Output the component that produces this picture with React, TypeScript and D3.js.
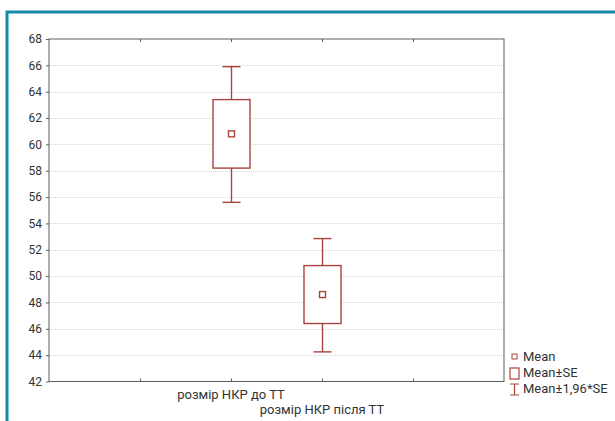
import React, { useEffect, useRef } from "react";
import * as d3 from "d3";

const categories = ["розмір НКР до ТТ", "розмір НКР після ТТ"];
const categoryPos = [2, 3];
const means = [60.8, 48.6];
const seLow = [58.2, 46.4];
const seHigh = [63.4, 50.8];
const ciLow = [55.6, 44.25];
const ciHigh = [65.9, 52.85];
const yTicks = [42, 44, 46, 48, 50, 52, 54, 56, 58, 60, 62, 64, 66, 68];
const xTicks = [1, 2, 3, 4];
const legendItems = ["Mean", "Mean±SE", "Mean±1,96*SE"];

const W = 615;
const H = 421;
const boxColor = "#a8443e";
const axisColor = "#56625a";
const font = "Roboto, 'DejaVu Sans', sans-serif";

const App = () => {
  const ref = useRef<SVGSVGElement | null>(null);

  useEffect(() => {
    const svg = d3.select(ref.current);
    svg.selectAll("*").remove();

    const margin = { top: 39, left: 49, right: 504, bottom: 381.5 };
    const x = d3.scaleLinear().domain([0, 5]).range([margin.left, margin.right]);
    const y = d3.scaleLinear().domain([42, 68]).range([margin.bottom, margin.top]);

    // teal frame
    svg
      .append("path")
      .attr("d", `M7,${H + 5} V12 H${W + 5}`)
      .attr("fill", "none")
      .attr("stroke", "#1689a8")
      .attr("stroke-width", 3);

    // grid
    svg
      .append("g")
      .selectAll("line")
      .data(yTicks.slice(1, -1))
      .join("line")
      .attr("x1", margin.left)
      .attr("x2", margin.right)
      .attr("y1", (d) => Math.round(y(d)) + 0.5)
      .attr("y2", (d) => Math.round(y(d)) + 0.5)
      .attr("stroke", "#d4d4d4")
      .attr("stroke-width", 1)
      .attr("stroke-dasharray", "1,1");

    // plot frame
    svg
      .append("rect")
      .attr("x", margin.left)
      .attr("y", margin.top)
      .attr("width", margin.right - margin.left)
      .attr("height", margin.bottom - margin.top)
      .attr("fill", "none")
      .attr("stroke", axisColor)
      .attr("stroke-width", 1);

    // y axis
    const yAxis = svg
      .append("g")
      .attr("transform", `translate(${margin.left},0)`)
      .call(d3.axisLeft(y).tickValues(yTicks).tickSize(3).tickPadding(4));
    yAxis.select(".domain").remove();
    yAxis.selectAll("line").attr("stroke", axisColor);
    yAxis
      .selectAll("text")
      .attr("fill", "#333")
      .style("font-family", font)
      .style("font-size", "12px");

    // x ticks bottom and top
    const xb = svg
      .append("g")
      .attr("transform", `translate(0,${margin.bottom})`)
      .call(d3.axisTop(x).tickValues(xTicks).tickSize(3).tickFormat(() => ""));
    xb.select(".domain").remove();
    xb.selectAll("line").attr("stroke", axisColor);
    const xt = svg
      .append("g")
      .attr("transform", `translate(0,${margin.top})`)
      .call(d3.axisBottom(x).tickValues(xTicks).tickSize(3).tickFormat(() => ""));
    xt.select(".domain").remove();
    xt.selectAll("line").attr("stroke", axisColor);

    // category labels, staggered
    svg
      .append("g")
      .selectAll("text")
      .data(categories)
      .join("text")
      .attr("x", (d, i) => x(categoryPos[i]))
      .attr("y", (d, i) => margin.bottom + 17 + i * 15)
      .attr("text-anchor", "middle")
      .attr("fill", "#333")
      .style("font-family", font)
      .style("font-size", "13px")
      .text((d) => d);

    // boxes
    const boxW = 37;
    const capW = 18;
    const g = svg.append("g").attr("stroke", boxColor).attr("fill", "none").attr("stroke-width", 1.4);
    categories.forEach((c, i) => {
      const cx = Math.round(x(categoryPos[i])) + 0.5;
      g.append("line").attr("x1", cx).attr("x2", cx).attr("y1", y(ciHigh[i])).attr("y2", y(seHigh[i]));
      g.append("line").attr("x1", cx).attr("x2", cx).attr("y1", y(seLow[i])).attr("y2", y(ciLow[i]));
      g.append("line").attr("x1", cx - capW / 2).attr("x2", cx + capW / 2).attr("y1", y(ciHigh[i])).attr("y2", y(ciHigh[i]));
      g.append("line").attr("x1", cx - capW / 2).attr("x2", cx + capW / 2).attr("y1", y(ciLow[i])).attr("y2", y(ciLow[i]));
      g.append("rect")
        .attr("x", cx - boxW / 2)
        .attr("y", y(seHigh[i]))
        .attr("width", boxW)
        .attr("height", y(seLow[i]) - y(seHigh[i]))
        .attr("fill", "#fff");
      g.append("rect")
        .attr("x", cx - 3)
        .attr("y", y(means[i]) - 3)
        .attr("width", 6)
        .attr("height", 6);
    });

    // legend
    const lx = 510;
    const ly = [357, 373, 389];
    const lg = svg.append("g");
    lg.append("rect").attr("x", lx + 2).attr("y", ly[0] - 3).attr("width", 5).attr("height", 5)
      .attr("fill", "none").attr("stroke", boxColor).attr("stroke-width", 1);
    lg.append("rect").attr("x", lx).attr("y", ly[1] - 5).attr("width", 9).attr("height", 11)
      .attr("fill", "none").attr("stroke", boxColor).attr("stroke-width", 1.2);
    lg.append("path")
      .attr("d", `M${lx},${ly[2] - 5}H${lx + 9}M${lx + 4.5},${ly[2] - 5}V${ly[2] + 6}M${lx},${ly[2] + 6}H${lx + 9}`)
      .attr("fill", "none").attr("stroke", boxColor).attr("stroke-width", 1.2);
    lg.selectAll("text")
      .data(legendItems)
      .join("text")
      .attr("x", lx + 13)
      .attr("y", (d, i) => ly[i] + 4)
      .attr("fill", "#333")
      .style("font-family", font)
      .style("font-size", "13px")
      .text((d) => d);
  }, []);

  return (
    <svg
      ref={ref}
      width={W}
      height={H}
      style={{ position: "absolute", left: 0, top: 0, background: "#fff" }}
    />
  );
};

export default App;
